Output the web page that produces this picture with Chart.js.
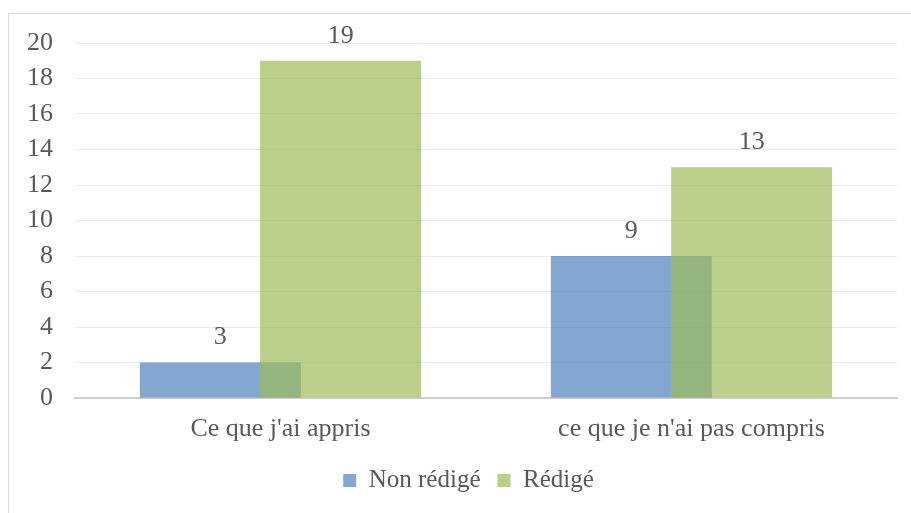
<!DOCTYPE html>
<html>
<head>
<meta charset="utf-8">
<script src="https://cdn.jsdelivr.net/npm/chart.js@4"></script>
<style>
  html, body { margin: 0; padding: 0; background: #ffffff; overflow: hidden; }
  #wrap { position: relative; width: 911px; height: 513px; }
  #frame { position: absolute; left: 8px; top: 13px; width: 1000px; height: 1000px; border: 1px solid #d9d9d9; box-sizing: border-box; }
  canvas { position: absolute; left: 0; top: 0; }
</style>
</head>
<body>
<div id="wrap">
  <div id="frame"></div>
  <canvas id="c" width="911" height="513"></canvas>
</div>
<script>
const categories = ["Ce que j'ai appris", "ce que je n'ai pas compris"];
const seriesNames = ["Non rédigé", "Rédigé"];
const nonRedige = [2, 8];
const redige = [19, 13];
const nonRedigeLabels = ["3", "9"];
const redigeLabels = ["19", "13"];
const yMin = 0, yMax = 20, yStep = 2;

const FONT = "'Liberation Serif', 'Times New Roman', serif";
const FSIZE = 26;
const TEXT = '#595959';
const dataLabels = [nonRedigeLabels, redigeLabels];

// Draw datasets in forward order so the second series overlaps the first
const drawOrderPlugin = {
  id: 'forwardDraw',
  beforeDatasetsDraw(chart) {
    const metas = chart.getSortedVisibleDatasetMetas();
    metas.forEach(m => m.controller.draw());
    const ctx = chart.ctx;
    ctx.save();
    ctx.font = FSIZE + "px " + FONT;
    ctx.fillStyle = TEXT;
    ctx.textAlign = 'center';
    ctx.textBaseline = 'middle';
    metas.forEach(meta => {
      meta.data.forEach((el, i) => {
        ctx.fillText(dataLabels[meta.index][i], el.x, el.y - 25);
      });
    });
    ctx.restore();
    return false;
  }
};

new Chart(document.getElementById('c'), {
  type: 'bar',
  data: {
    labels: categories,
    datasets: [
      { label: seriesNames[0], data: nonRedige, backgroundColor: 'rgba(79,129,189,0.70)', borderWidth: 0,
        categoryPercentage: 0.5854, barPercentage: 1.338 },
      { label: seriesNames[1], data: redige, backgroundColor: 'rgba(155,187,89,0.70)', borderWidth: 0,
        categoryPercentage: 0.5854, barPercentage: 1.338 }
    ]
  },
  options: {
    responsive: false,
    animation: false,
    devicePixelRatio: 1,
    layout: { padding: { left: 14, right: -12, top: 43, bottom: 10 } },
    plugins: {
      legend: {
        position: 'bottom',
        labels: {
          font: { family: FONT, size: 25 },
          color: TEXT,
          boxWidth: 13,
          boxHeight: 13,
          padding: 17
        }
      },
      tooltip: { enabled: false }
    },
    scales: {
      x: {
        grid: { display: false, drawTicks: false },
        border: { display: true, color: '#cfcfcf', width: 2 },
        ticks: { font: { family: FONT, size: FSIZE }, color: TEXT, padding: 16 },
        afterFit(scale) { scale.height = 53; }
      },
      y: {
        min: yMin, max: yMax,
        grid: { color: '#ececec', lineWidth: 1, drawTicks: false },
        border: { display: false },
        ticks: { stepSize: yStep, font: { family: FONT, size: FSIZE }, color: TEXT, padding: 22 },
        afterFit(scale) { scale.width = 61; }
      },
      yRight: {
        position: 'right',
        grid: { display: false, drawTicks: false },
        border: { display: false },
        ticks: { display: false },
        afterFit(scale) { scale.width = 26; }
      }
    }
  },
  plugins: [drawOrderPlugin]
});
</script>
</body>
</html>
